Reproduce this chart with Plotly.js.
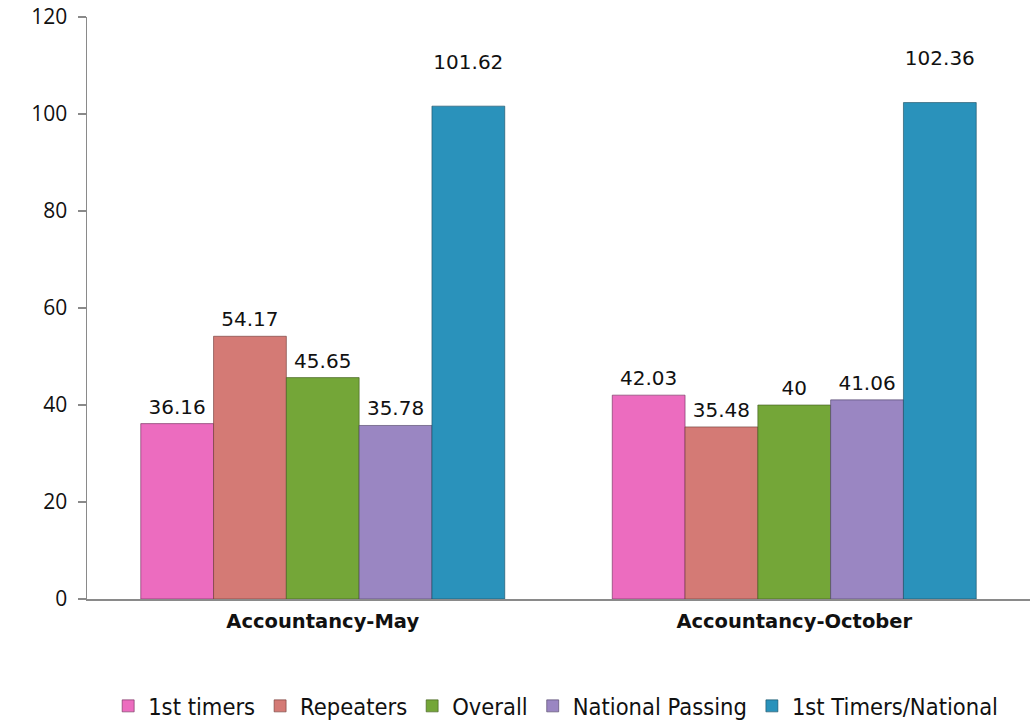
<!DOCTYPE html>
<html>
<head>
<meta charset="utf-8">
<script src="https://cdn.plot.ly/plotly-3.0.1.min.js"></script>
<style>html,body{margin:0;padding:0;background:#fff;}#chart{width:1030px;height:721px;}</style>
</head>
<body>
<div id="chart"></div>
<script>
const categories = ["Accountancy-May", "Accountancy-October"];
const seriesNames = ["1st timers", "Repeaters", "Overall", "National Passing", "1st Timers/National"];
const firstTimers = [36.16, 42.03];
const repeaters = [54.17, 35.48];
const overall = [45.65, 40];
const nationalPassing = [35.78, 41.06];
const firstTimersNational = [101.62, 102.36];
const yTicks = [0, 20, 40, 60, 80, 100, 120];

const seriesValues = [firstTimers, repeaters, overall, nationalPassing, firstTimersNational];
const colors = ["#ec6cbf", "#d47a75", "#74a638", "#9a86c2", "#2a92bb"];
const edgeColors = ["#6a2a55", "#6a3532", "#3a5518", "#4a3e60", "#174a5e"];
// label gap above bar (marker size of invisible label carriers)
const labelGap = [6.4, 6.4, 6.4, 6.4, 50];

const barTraces = seriesNames.map((name, i) => ({
  type: "bar",
  name: name,
  x: categories,
  y: seriesValues[i],
  marker: {color: colors[i], line: {color: edgeColors[i], width: 0.6}},
  hoverinfo: "x+y+name"
}));

const labelTraces = seriesNames.map((name, i) => ({
  type: "scatter",
  mode: "markers+text",
  name: name + " label",
  x: categories,
  y: seriesValues[i],
  text: seriesValues[i].map(v => String(v)),
  textposition: "top center",
  textfont: {family: "DejaVu Sans", size: 20, color: "#111"},
  marker: {size: labelGap[i], opacity: 0, color: colors[i]},
  cliponaxis: false,
  showlegend: false,
  hoverinfo: "skip"
}));

const layout = {
  width: 1030,
  height: 721,
  margin: {l: 87, r: 0, t: 17, b: 122, autoexpand: false},
  paper_bgcolor: "#ffffff",
  plot_bgcolor: "#ffffff",
  barmode: "group",
  scattermode: "group",
  bargap: 0.228,
  bargroupgap: 0,
  scattergap: 0.228,
  showlegend: true,
  legend: {
    orientation: "h",
    x: 0.497, xanchor: "center",
    y: -0.184, yanchor: "middle",
    font: {family: "DejaVu Sans Condensed, DejaVu Sans", size: 23.5, color: "#111"},
    itemwidth: 30,
    tracegroupgap: 0
  },
  xaxis: {
    type: "category",
    showline: true,
    linecolor: "#8a8a8a",
    linewidth: 1.5,
    ticks: "",
    showgrid: false,
    zeroline: false,
    tickfont: {family: "DejaVu Sans", size: 19.5, color: "#111", weight: "bold"},
    ticklabelstandoff: 4
  },
  yaxis: {
    range: [0, 120],
    tickvals: yTicks,
    ticktext: yTicks.map(String),
    showline: true,
    linecolor: "#8a8a8a",
    linewidth: 1.5,
    ticks: "outside",
    ticklen: 8,
    tickcolor: "#8a8a8a",
    tickwidth: 1.5,
    showgrid: false,
    zeroline: false,
    tickfont: {family: "Open Sans", size: 21, color: "#111"},
    ticklabelstandoff: 6
  }
};

Plotly.newPlot("chart", barTraces.concat(labelTraces), layout, {displayModeBar: false, staticPlot: true});
</script>
</body>
</html>
